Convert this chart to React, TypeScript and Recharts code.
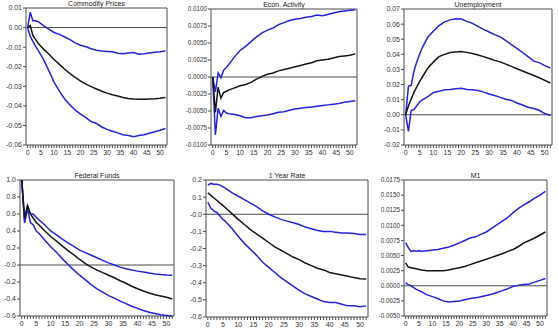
import React from 'react';
import { LineChart, Line, XAxis, YAxis, ReferenceLine, ReferenceArea } from 'recharts';

// horizon (periods after the shock)
const periods = [0, 1, 2, 3, 4, 5, 6, 8, 10, 12, 14, 16, 18, 20, 22, 24, 26, 28, 30, 32, 34, 36, 38, 40, 42, 44, 46, 48, 50, 52];
const xTicks = Array.from({ length: 53 }, (_, i) => i);

const commodityHi = [0, 0.0078, 0.0035, 0.0035, 0.003, 0.002, 0.001, -0.0008, -0.0025, -0.0035, -0.0048, -0.0062, -0.0078, -0.009, -0.0098, -0.0108, -0.0116, -0.012, -0.0122, -0.0124, -0.0131, -0.0134, -0.013, -0.0127, -0.0136, -0.0134, -0.013, -0.0126, -0.0124, -0.012];
const commodityMid = [0, 0.001, -0.004, -0.006, -0.008, -0.0095, -0.011, -0.0135, -0.0163, -0.0188, -0.0213, -0.0235, -0.0255, -0.0274, -0.0289, -0.0302, -0.0314, -0.0325, -0.0335, -0.0343, -0.035, -0.0357, -0.0362, -0.0365, -0.0366, -0.0366, -0.0365, -0.0364, -0.0361, -0.0357];
const commodityLo = [0, -0.0045, -0.007, -0.0095, -0.0118, -0.014, -0.0163, -0.022, -0.028, -0.0325, -0.0365, -0.0395, -0.0422, -0.0442, -0.046, -0.048, -0.049, -0.0508, -0.052, -0.053, -0.0538, -0.0548, -0.0552, -0.0558, -0.0552, -0.0548, -0.054, -0.0532, -0.0525, -0.0516];

const activityHi = [0, -0.0022, 0.0006, -0.0001, 0.001, 0.0014, 0.0019, 0.003, 0.0039, 0.0045, 0.0052, 0.0059, 0.0065, 0.0069, 0.0072, 0.0077, 0.008, 0.0083, 0.0085, 0.0086, 0.0088, 0.0089, 0.0091, 0.009, 0.0092, 0.0094, 0.0096, 0.0097, 0.0098, 0.0099];
const activityMid = [0, -0.0052, -0.0015, -0.0031, -0.0023, -0.0021, -0.0019, -0.0016, -0.0013, -0.0011, -0.0008, -0.0003, 0.0001, 0.0004, 0.0006, 0.0009, 0.0011, 0.0013, 0.0015, 0.0017, 0.0019, 0.0021, 0.0024, 0.0025, 0.0026, 0.0028, 0.003, 0.0031, 0.0032, 0.0034];
const activityLo = [0, -0.0085, -0.0046, -0.0058, -0.0049, -0.0053, -0.0054, -0.0055, -0.0057, -0.006, -0.006, -0.0058, -0.0057, -0.0056, -0.0054, -0.0052, -0.0051, -0.0049, -0.0047, -0.0046, -0.0045, -0.0044, -0.0043, -0.0042, -0.0041, -0.004, -0.0039, -0.0037, -0.0036, -0.0035];

const unempHi = [0, 0.019, 0.0195, 0.029, 0.035, 0.04, 0.0445, 0.0515, 0.0555, 0.059, 0.0615, 0.0628, 0.0635, 0.0634, 0.0618, 0.0605, 0.0585, 0.0565, 0.0548, 0.053, 0.0515, 0.049, 0.0465, 0.044, 0.0412, 0.0385, 0.0355, 0.0345, 0.0325, 0.031];
const unempMid = [0, 0.006, 0.0105, 0.015, 0.0185, 0.022, 0.025, 0.031, 0.035, 0.0385, 0.04, 0.0412, 0.0415, 0.0418, 0.0413, 0.0405, 0.0395, 0.0385, 0.0372, 0.036, 0.035, 0.0335, 0.032, 0.0305, 0.029, 0.0275, 0.026, 0.0245, 0.0228, 0.021];
const unempLo = [0, -0.011, 0.003, 0.0035, 0.006, 0.0085, 0.0098, 0.012, 0.0148, 0.0155, 0.0165, 0.0168, 0.0172, 0.0175, 0.0168, 0.0165, 0.016, 0.015, 0.0138, 0.0128, 0.0115, 0.0103, 0.0095, 0.0078, 0.0065, 0.005, 0.0042, 0.003, 0.0008, -0.0005];

const fedHi = [1.0, 0.5, 0.7, 0.6, 0.6, 0.56, 0.53, 0.47, 0.4, 0.355, 0.305, 0.26, 0.22, 0.175, 0.145, 0.115, 0.085, 0.055, 0.025, 0.0, -0.025, -0.045, -0.06, -0.072, -0.083, -0.095, -0.105, -0.113, -0.118, -0.12];
const fedMid = [1.0, 0.55, 0.7, 0.6, 0.55, 0.5, 0.47, 0.4, 0.335, 0.28, 0.225, 0.17, 0.12, 0.065, 0.015, -0.025, -0.06, -0.09, -0.12, -0.15, -0.185, -0.215, -0.25, -0.28, -0.305, -0.33, -0.35, -0.365, -0.38, -0.4];
const fedLo = [1.0, 0.5, 0.66, 0.5, 0.47, 0.4, 0.37, 0.29, 0.215, 0.15, 0.075, 0.005, -0.06, -0.12, -0.175, -0.23, -0.28, -0.32, -0.36, -0.39, -0.425, -0.455, -0.485, -0.51, -0.535, -0.555, -0.57, -0.585, -0.593, -0.6];

const rateHi = [0.17, 0.18, 0.175, 0.175, 0.17, 0.16, 0.15, 0.125, 0.105, 0.085, 0.065, 0.045, 0.02, 0.0, -0.015, -0.03, -0.04, -0.05, -0.06, -0.075, -0.085, -0.095, -0.1, -0.1, -0.105, -0.11, -0.11, -0.112, -0.118, -0.118];
const rateMid = [0.125, 0.11, 0.095, 0.08, 0.065, 0.05, 0.035, 0.002, -0.03, -0.06, -0.09, -0.115, -0.14, -0.165, -0.19, -0.21, -0.23, -0.25, -0.265, -0.285, -0.3, -0.315, -0.325, -0.34, -0.348, -0.355, -0.362, -0.37, -0.376, -0.378];
const rateLo = [0.07, 0.035, 0.02, 0.01, -0.01, -0.03, -0.045, -0.085, -0.13, -0.17, -0.205, -0.24, -0.28, -0.31, -0.34, -0.37, -0.395, -0.42, -0.445, -0.465, -0.48, -0.495, -0.51, -0.515, -0.515, -0.525, -0.535, -0.535, -0.54, -0.535];

const m1Hi = [0.0071, 0.0063, 0.0057, 0.0058, 0.0057, 0.0058, 0.0057, 0.0058, 0.0059, 0.006, 0.0062, 0.0064, 0.0067, 0.0071, 0.0075, 0.0079, 0.0081, 0.0085, 0.0089, 0.0095, 0.0101, 0.0107, 0.0113, 0.0121, 0.0128, 0.0134, 0.0139, 0.0145, 0.015, 0.0156];
const m1Mid = [0.0038, 0.0031, 0.003, 0.0029, 0.0028, 0.0027, 0.0026, 0.0025, 0.0025, 0.0025, 0.0025, 0.0026, 0.0028, 0.003, 0.0032, 0.0035, 0.0038, 0.0041, 0.0044, 0.0047, 0.005, 0.0053, 0.0057, 0.006, 0.0065, 0.0071, 0.0075, 0.0079, 0.0084, 0.0089];
const m1Lo = [0.0005, 0.0002, 0.0, -0.0003, -0.0006, -0.0008, -0.001, -0.0015, -0.0018, -0.0021, -0.0025, -0.0027, -0.0026, -0.0025, -0.0023, -0.0021, -0.002, -0.0018, -0.0016, -0.0014, -0.0011, -0.0008, -0.0005, -0.0001, 0.0001, 0.0002, 0.0003, 0.0006, 0.0009, 0.0012];

// y axis ticks
const commodityTicks = [-0.06, -0.05, -0.04, -0.03, -0.02, -0.01, 0, 0.01];
const activityTicks = [-0.01, -0.0075, -0.005, -0.0025, 0, 0.0025, 0.005, 0.0075, 0.01];
const unempTicks = [-0.02, -0.01, 0, 0.01, 0.02, 0.03, 0.04, 0.05, 0.06, 0.07];
const fedTicks = [-0.6, -0.4, -0.2, 0, 0.2, 0.4, 0.6, 0.8, 1.0];
const rateTicks = [-0.6, -0.5, -0.4, -0.3, -0.2, -0.1, 0, 0.1, 0.2];
const m1Ticks = [-0.005, -0.0025, 0, 0.0025, 0.005, 0.0075, 0.01, 0.0125, 0.015, 0.0175];

const BLUE = '#2323dc';
const BLACK = '#151515';
const AXIS = '#4a4a4a';
const FONT = '"Liberation Sans", Arial, sans-serif';
const X_DOMAIN: [number, number] = [-0.6, 52.6];
const TOP = 6;
const RIGHT = 4;
const XH = 16;

interface Box { x0: number; x1: number; y0: number; y1: number }

interface PanelProps {
  title: string;
  box: Box;
  yWidth: number;
  ticks: number[];
  digits: number;
  fontSize?: number;
  negZero?: boolean;
  lo: number[];
  mid: number[];
  hi: number[];
}

function Panel({ title, box, yWidth, ticks, digits, fontSize = 7, negZero, lo, mid, hi }: PanelProps) {
  const data = periods.map((t, i) => ({ t, lo: lo[i], mid: mid[i], hi: hi[i] }));
  const yDomain: [number, number] = [ticks[0], ticks[ticks.length - 1]];
  const width = box.x1 - box.x0 + yWidth + RIGHT;
  const height = box.y1 - box.y0 + TOP + XH;
  const fmtY = (v: number) => {
    if (v === 0 && negZero) return '-' + (0).toFixed(digits);
    return v.toFixed(digits);
  };
  return (
    <>
      <div
        style={{
          position: 'absolute',
          left: box.x0,
          width: box.x1 - box.x0,
          top: box.y0 - 8,
          textAlign: 'center',
          fontFamily: FONT,
          fontSize: 7,
          lineHeight: '8px',
          color: '#222',
        }}
      >
        {title}
      </div>
      <div style={{ position: 'absolute', left: box.x0 - yWidth, top: box.y0 - TOP }}>
        <LineChart width={width} height={height} data={data} margin={{ top: TOP, right: RIGHT, left: 0, bottom: 0 }}>
          <XAxis
            dataKey="t"
            type="number"
            domain={X_DOMAIN}
            ticks={xTicks}
            interval={0}
            tickFormatter={(v: number) => (v % 5 === 0 ? String(v) : '')}
            axisLine={false}
            tickSize={3}
            tickMargin={2}
            height={XH}
            tickLine={{ stroke: AXIS }}
            tick={{ fontSize: 7, fill: '#333', fontFamily: FONT }}
          />
          <YAxis
            type="number"
            domain={yDomain}
            ticks={ticks}
            interval={0}
            tickFormatter={fmtY}
            axisLine={false}
            tickSize={3}
            tickMargin={1}
            width={yWidth}
            tickLine={{ stroke: AXIS }}
            tick={{ fontSize, fill: '#333', fontFamily: FONT }}
          />
          <ReferenceArea
            x1={X_DOMAIN[0]}
            x2={X_DOMAIN[1]}
            y1={yDomain[0]}
            y2={yDomain[1]}
            fill="none"
            stroke={AXIS}
            strokeWidth={1}
            ifOverflow="visible"
          />
          <ReferenceLine y={0} stroke={AXIS} strokeWidth={1} />
          <Line dataKey="hi" stroke={BLUE} strokeWidth={1.5} dot={false} isAnimationActive={false} />
          <Line dataKey="lo" stroke={BLUE} strokeWidth={1.5} dot={false} isAnimationActive={false} />
          <Line dataKey="mid" stroke={BLACK} strokeWidth={1.5} dot={false} isAnimationActive={false} />
        </LineChart>
      </div>
    </>
  );
}

export default function App() {
  return (
    <div style={{ position: 'absolute', left: 0, top: 0, width: 558, height: 329, background: '#fff', overflow: 'hidden' }}>
      <style>{'.recharts-surface { overflow: visible; }'}</style>
      <Panel title="Commodity Prices" box={{ x0: 26, x1: 167, y0: 8, y1: 145 }} yWidth={26} ticks={commodityTicks} digits={2}
        lo={commodityLo} mid={commodityMid} hi={commodityHi} />
      <Panel title="Econ. Activity" box={{ x0: 211, x1: 357, y0: 9, y1: 145 }} yWidth={25} ticks={activityTicks} digits={4} fontSize={6.3}
        lo={activityLo} mid={activityMid} hi={activityHi} />
      <Panel title="Unemployment" box={{ x0: 404, x1: 552, y0: 9, y1: 145 }} yWidth={30} ticks={unempTicks} digits={2}
        lo={unempLo} mid={unempMid} hi={unempHi} />
      <Panel title="Federal Funds" box={{ x0: 20, x1: 174, y0: 180, y1: 316 }} yWidth={20} ticks={fedTicks} digits={1} negZero
        lo={fedLo} mid={fedMid} hi={fedHi} />
      <Panel title="1 Year Rate" box={{ x0: 206, x1: 368, y0: 180, y1: 317 }} yWidth={20} ticks={rateTicks} digits={1} negZero
        lo={rateLo} mid={rateMid} hi={rateHi} />
      <Panel title="M1" box={{ x0: 404, x1: 547, y0: 180, y1: 316 }} yWidth={30} ticks={m1Ticks} digits={4} fontSize={6.3}
        lo={m1Lo} mid={m1Mid} hi={m1Hi} />
    </div>
  );
}
